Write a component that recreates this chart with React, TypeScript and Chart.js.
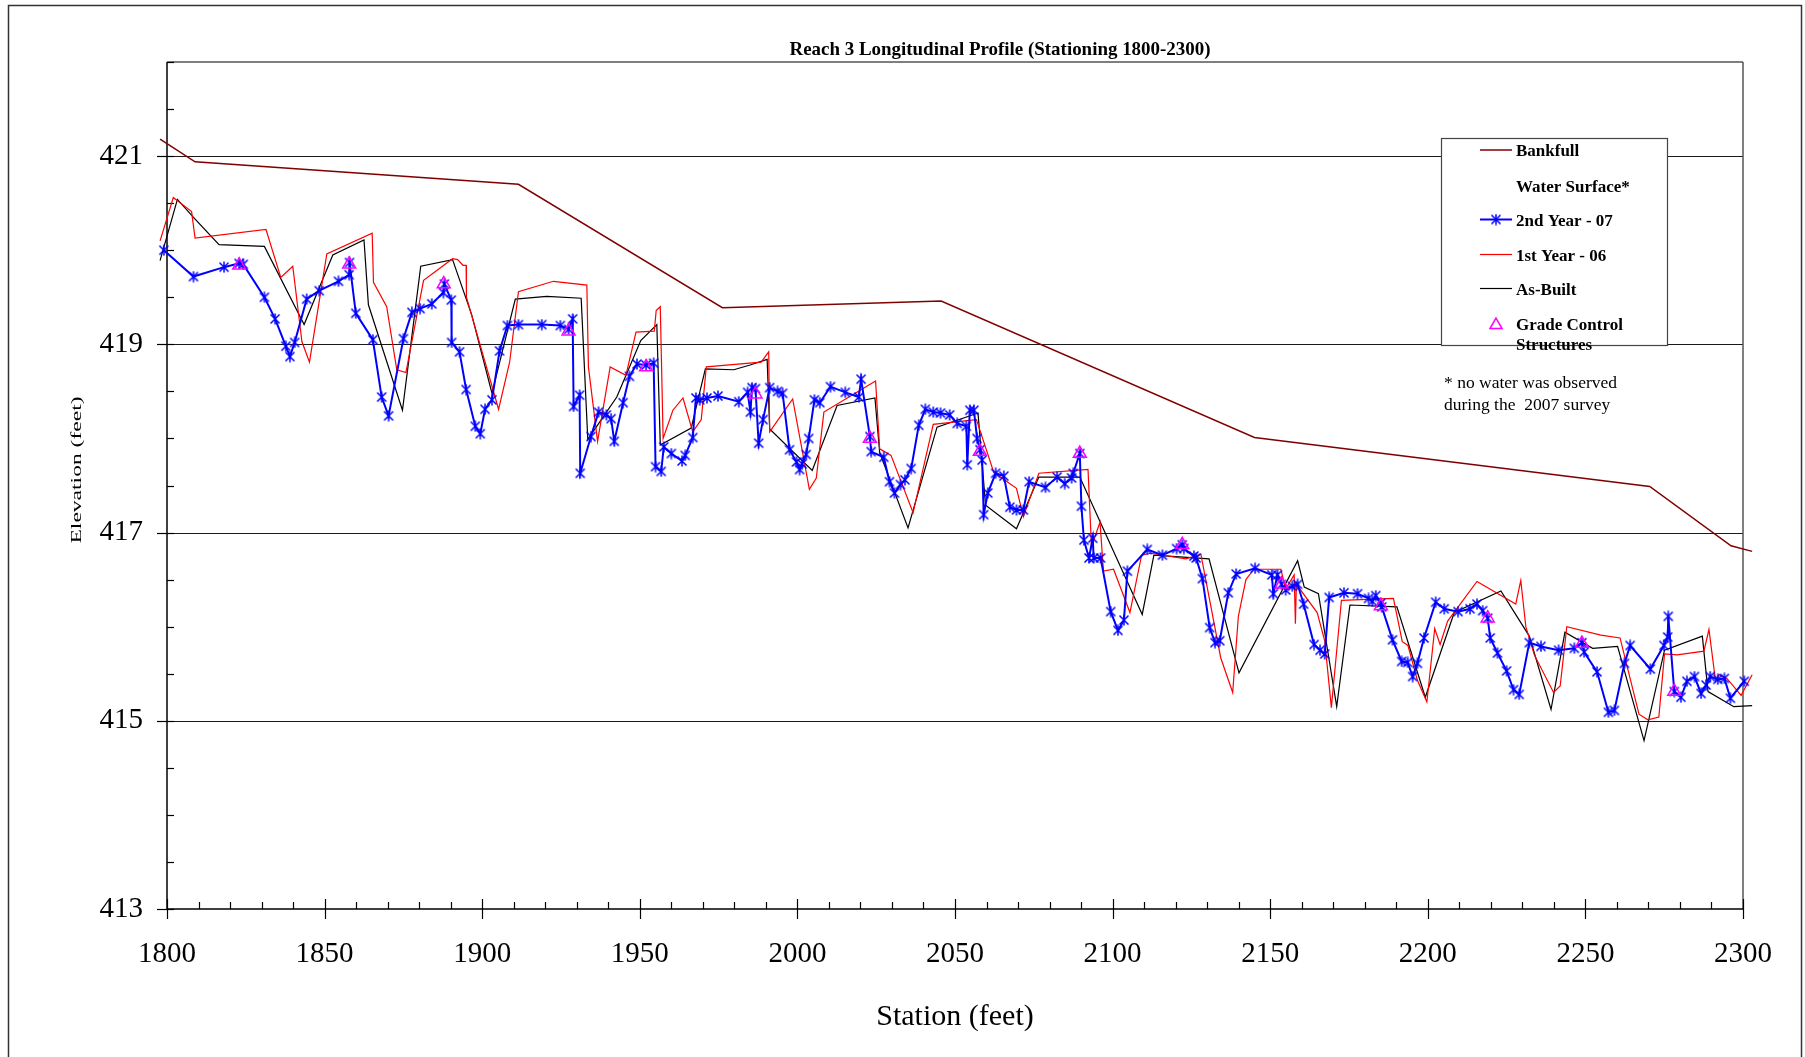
import React, { useEffect, useRef } from 'react';
import { Chart, registerables } from 'chart.js';

Chart.register(...registerables);

const FONT = '"Liberation Serif", "Times New Roman", Times, serif';

const TITLE = 'Reach 3 Longitudinal Profile (Stationing 1800-2300)';
const X_TITLE = 'Station (feet)';
const Y_TITLE = 'Elevation (feet)';
const NOTE_LINES = ['* no water was observed', 'during the  2007 survey'];

const X_MIN = 1800;
const X_MAX = 2300;
const X_MINOR_STEP = 10;
const X_TICK_LABELS = [1800, 1850, 1900, 1950, 2000, 2050, 2100, 2150, 2200, 2250, 2300];
const Y_MIN = 413;
const Y_MAX = 422;
const Y_MINOR_STEP = 0.5;
const Y_TICK_LABELS = [413, 415, 417, 419, 421];
const Y_GRID = [415, 417, 419, 421];

const LABEL_BANKFULL = 'Bankfull';
const LABEL_WATER = 'Water Surface*';
const LABEL_YEAR2 = '2nd Year - 07';
const LABEL_YEAR1 = '1st Year - 06';
const LABEL_ASBUILT = 'As-Built';
const LABEL_GRADE = 'Grade Control Structures';

// [station, elevation]
const BANKFULL: [number, number][] = [
  [1797.8, 421.18], [1808.9, 420.94], [1911.5, 420.70], [1976.2, 419.39], [2045.6, 419.46],
  [2145.0, 418.01], [2270.4, 417.49], [2296.2, 416.86], [2302.9, 416.80],
];

const WATER_SURFACE: [number, number][] = [];

const YEAR2_07: [number, number][] = [
  [1799.0, 420.0], [1808.4, 419.72], [1818.1, 419.82], [1822.9, 419.86], [1824.2, 419.85],
  [1830.9, 419.50], [1834.3, 419.27], [1837.7, 418.98], [1839.0, 418.87], [1840.5, 419.02],
  [1844.3, 419.48], [1848.3, 419.57], [1854.4, 419.67], [1857.8, 419.74], [1857.9, 419.87],
  [1859.9, 419.33], [1865.3, 419.05], [1868.1, 418.44], [1870.3, 418.24], [1875.0, 419.06],
  [1877.7, 419.34], [1880.3, 419.38], [1884.0, 419.43], [1887.7, 419.55], [1888.0, 419.64],
  [1890.2, 419.47], [1890.3, 419.02], [1892.8, 418.92], [1894.9, 418.52], [1897.8, 418.13],
  [1899.4, 418.05], [1900.9, 418.31], [1903.1, 418.41], [1905.5, 418.93], [1908.0, 419.20],
  [1911.5, 419.21], [1918.9, 419.21], [1924.8, 419.20], [1927.4, 419.16], [1928.7, 419.27],
  [1929.0, 418.34], [1930.9, 418.46], [1931.1, 417.63], [1934.5, 418.02], [1936.9, 418.28],
  [1939.4, 418.25], [1940.9, 418.21], [1941.9, 417.97], [1944.7, 418.38], [1946.7, 418.66],
  [1949.1, 418.79], [1952.0, 418.78], [1954.4, 418.80], [1955.0, 417.70], [1956.8, 417.65],
  [1957.6, 417.91], [1960.0, 417.84], [1963.4, 417.76], [1964.4, 417.82], [1966.8, 418.01],
  [1967.8, 418.43], [1969.0, 418.41], [1971.3, 418.43], [1974.8, 418.45], [1981.4, 418.39],
  [1984.2, 418.49], [1985.1, 418.28], [1985.6, 418.54], [1986.7, 418.53], [1987.7, 417.95],
  [1989.1, 418.20], [1991.2, 418.54], [1993.7, 418.50], [1995.3, 418.48], [1997.5, 417.88],
  [1999.7, 417.75], [2000.7, 417.67], [2001.5, 417.73], [2002.8, 417.83], [2003.6, 418.00],
  [2005.4, 418.41], [2007.1, 418.38], [2010.5, 418.55], [2015.2, 418.49], [2019.5, 418.44],
  [2020.2, 418.63], [2023.0, 418.02], [2023.4, 417.86], [2027.4, 417.80], [2029.2, 417.54],
  [2030.8, 417.42], [2032.7, 417.51], [2034.1, 417.56], [2036.1, 417.68], [2038.5, 418.14],
  [2040.6, 418.31], [2043.1, 418.28], [2045.4, 418.27], [2048.3, 418.25], [2050.7, 418.16],
  [2053.6, 418.13], [2053.9, 417.72], [2054.7, 418.30], [2056.0, 418.30], [2057.0, 418.00],
  [2057.9, 417.88], [2058.6, 417.77], [2059.1, 417.19], [2060.4, 417.42], [2062.9, 417.63],
  [2065.5, 417.60], [2067.4, 417.27], [2069.5, 417.24], [2071.7, 417.24], [2073.5, 417.54],
  [2078.7, 417.48], [2082.4, 417.59], [2084.8, 417.52], [2087.0, 417.58], [2087.5, 417.63],
  [2089.6, 417.84], [2090.1, 417.28], [2090.9, 416.92], [2092.5, 416.73], [2093.7, 416.94],
  [2094.0, 416.73], [2096.2, 416.73], [2099.4, 416.16], [2101.7, 415.96], [2103.6, 416.07],
  [2104.7, 416.59], [2111.0, 416.82], [2115.8, 416.76], [2120.3, 416.83], [2122.1, 416.87],
  [2122.6, 416.83], [2125.8, 416.75], [2126.5, 416.73], [2128.5, 416.51], [2130.8, 415.99],
  [2132.5, 415.83], [2134.0, 415.85], [2136.7, 416.36], [2139.2, 416.56], [2145.2, 416.62],
  [2150.5, 416.55], [2151.0, 416.35], [2152.3, 416.55], [2153.6, 416.45], [2154.9, 416.39],
  [2157.0, 416.43], [2158.7, 416.45], [2160.6, 416.24], [2163.9, 415.81], [2165.8, 415.75],
  [2167.3, 415.71], [2168.7, 416.31], [2173.4, 416.36], [2177.7, 416.35], [2181.2, 416.30],
  [2182.4, 416.27], [2183.5, 416.33], [2185.1, 416.25], [2185.4, 416.21], [2188.8, 415.86],
  [2191.7, 415.63], [2193.6, 415.62], [2195.2, 415.47], [2196.7, 415.61], [2198.8, 415.88],
  [2202.5, 416.26], [2205.2, 416.19], [2209.6, 416.16], [2213.4, 416.19], [2215.6, 416.24],
  [2217.4, 416.17], [2219.0, 416.09], [2219.8, 415.88], [2222.1, 415.72], [2225.0, 415.53],
  [2227.2, 415.33], [2229.0, 415.28], [2232.2, 415.83], [2235.9, 415.79], [2241.5, 415.75],
  [2246.5, 415.77], [2248.9, 415.83], [2249.6, 415.73], [2253.7, 415.52], [2257.3, 415.09],
  [2259.2, 415.11], [2262.4, 415.61], [2264.2, 415.80], [2270.6, 415.55], [2274.9, 415.80],
  [2276.1, 415.89], [2276.3, 416.11], [2278.2, 415.31], [2280.3, 415.25], [2282.2, 415.42],
  [2284.6, 415.47], [2286.7, 415.29], [2288.3, 415.38], [2289.6, 415.47], [2292.0, 415.44],
  [2294.1, 415.45], [2296.0, 415.24], [2300.4, 415.42], [2302.9, 415.49],
];

const YEAR1_06: [number, number][] = [
  [1797.8, 420.10], [1802.0, 420.56], [1807.8, 420.41], [1808.9, 420.13], [1831.4, 420.22],
  [1836.1, 419.71], [1839.9, 419.83], [1842.8, 419.03], [1845.2, 418.81], [1850.7, 419.96],
  [1865.1, 420.18], [1865.5, 419.66], [1869.7, 419.40], [1872.9, 418.73], [1875.8, 418.70],
  [1881.4, 419.68], [1890.6, 419.91], [1892.2, 419.90], [1893.9, 419.84], [1894.9, 419.84],
  [1895.0, 419.50], [1905.2, 418.31], [1908.7, 418.81], [1911.5, 419.56], [1922.6, 419.67],
  [1933.2, 419.63], [1933.7, 418.76], [1936.6, 417.97], [1940.6, 418.76], [1945.6, 418.67],
  [1948.8, 419.13], [1954.6, 419.14], [1955.2, 419.36], [1956.5, 419.40], [1957.4, 418.00],
  [1960.5, 418.30], [1963.7, 418.43], [1966.8, 418.07], [1969.5, 418.20], [1971.1, 418.76],
  [1988.5, 418.81], [1990.9, 418.92], [1991.2, 418.07], [1998.5, 418.42], [2003.8, 417.46],
  [2006.0, 417.58], [2008.4, 418.28], [2024.8, 418.61], [2026.1, 417.89], [2029.7, 417.82],
  [2036.7, 417.21], [2043.1, 418.15], [2056.8, 418.20], [2062.3, 417.64], [2069.5, 417.47],
  [2071.7, 417.17], [2076.6, 417.63], [2092.2, 417.67], [2093.3, 416.85], [2096.0, 417.11],
  [2097.1, 416.59], [2100.3, 416.61], [2105.5, 416.15], [2109.2, 416.76], [2112.1, 416.78],
  [2123.2, 416.72], [2128.0, 416.77], [2134.3, 415.67], [2138.1, 415.30], [2139.9, 416.11],
  [2142.3, 416.50], [2144.8, 416.61], [2153.4, 416.61], [2154.9, 416.40], [2157.6, 416.55],
  [2158.0, 416.03], [2158.3, 416.45], [2164.9, 416.15], [2167.3, 415.85], [2169.4, 415.14],
  [2172.6, 416.28], [2189.1, 416.30], [2191.9, 415.84], [2193.7, 415.80], [2196.7, 415.43],
  [2199.7, 415.20], [2202.2, 415.98], [2203.9, 415.81], [2206.3, 416.06], [2215.6, 416.48],
  [2227.9, 416.24], [2229.5, 416.49], [2231.1, 416.00], [2233.8, 415.70], [2239.9, 415.30],
  [2242.0, 415.37], [2244.1, 416.00], [2254.9, 415.91], [2261.0, 415.88], [2267.0, 415.07],
  [2269.8, 415.01], [2273.3, 415.04], [2275.1, 415.71], [2279.1, 415.70], [2287.6, 415.74],
  [2289.2, 415.97], [2291.3, 415.42], [2292.4, 415.49], [2294.9, 415.45], [2299.4, 415.27],
  [2302.9, 415.49],
];

const AS_BUILT: [number, number][] = [
  [1797.8, 419.89], [1803.3, 420.54], [1808.4, 420.35], [1816.5, 420.06], [1830.9, 420.04],
  [1843.5, 419.21], [1852.6, 419.95], [1862.5, 420.11], [1863.9, 419.42], [1874.7, 418.30],
  [1880.5, 419.83], [1890.6, 419.90], [1896.7, 419.31], [1903.1, 418.48], [1910.5, 419.48],
  [1920.5, 419.51], [1931.4, 419.49], [1933.5, 417.99], [1942.7, 418.44], [1950.3, 419.04],
  [1955.4, 419.21], [1956.5, 417.93], [1966.3, 418.11], [1970.8, 418.74], [1979.8, 418.73],
  [1985.0, 418.78], [1990.4, 418.84], [1991.2, 418.10], [2004.7, 417.66], [2012.6, 418.35],
  [2024.6, 418.43], [2026.1, 417.85], [2035.1, 417.05], [2044.3, 418.12], [2057.3, 418.27],
  [2059.7, 417.29], [2069.5, 417.04], [2076.6, 417.59], [2089.6, 417.59], [2109.4, 416.13],
  [2113.1, 416.76], [2130.6, 416.72], [2140.1, 415.51], [2158.7, 416.70], [2160.8, 416.42],
  [2165.3, 416.35], [2171.1, 415.15], [2175.3, 416.23], [2190.2, 416.21], [2199.2, 415.25],
  [2208.4, 416.15], [2223.2, 416.38], [2232.2, 415.90], [2239.1, 415.12], [2243.5, 415.94],
  [2252.3, 415.77], [2260.2, 415.79], [2268.6, 414.79], [2275.1, 415.75], [2287.1, 415.90],
  [2288.9, 415.31], [2297.1, 415.15], [2302.9, 415.16],
];

const GRADE_CONTROL: [number, number][] = [
  [1822.9, 419.84], [1857.8, 419.85], [1887.8, 419.64], [1927.4, 419.14], [1952.0, 418.76],
  [1986.7, 418.47], [2023.0, 418.00], [2057.9, 417.86], [2089.6, 417.84], [2122.1, 416.87],
  [2153.6, 416.45], [2185.1, 416.22], [2219.0, 416.09], [2248.9, 415.82], [2278.2, 415.31],
];

const COLOR_BANKFULL = '#800000';
const COLOR_YEAR2 = '#0000FF';
const COLOR_YEAR1 = '#FF0000';
const COLOR_ASBUILT = '#000000';
const COLOR_GRADE = '#FF00FF';

const toXY = (arr: [number, number][]) => arr.map(([x, y]) => ({ x, y }));

function makeStar(color: string): HTMLCanvasElement {
  const c = document.createElement('canvas');
  c.width = 12;
  c.height = 12;
  const g = c.getContext('2d')!;
  g.strokeStyle = color;
  g.lineWidth = 1.5;
  g.beginPath();
  g.moveTo(6, 0.5);
  g.lineTo(6, 11.5);
  g.moveTo(1.5, 1.5);
  g.lineTo(10.5, 10.5);
  g.moveTo(10.5, 1.5);
  g.lineTo(1.5, 10.5);
  g.stroke();
  return c;
}

function line(ctx: CanvasRenderingContext2D, x1: number, y1: number, x2: number, y2: number) {
  ctx.beginPath();
  ctx.moveTo(x1, y1);
  ctx.lineTo(x2, y2);
  ctx.stroke();
}

function triangle(ctx: CanvasRenderingContext2D, x: number, y: number, r: number) {
  ctx.beginPath();
  for (let k = 0; k < 3; k++) {
    const a = (k * 2 * Math.PI) / 3;
    const px = x + Math.sin(a) * r;
    const py = y - Math.cos(a) * r;
    if (k === 0) ctx.moveTo(px, py);
    else ctx.lineTo(px, py);
  }
  ctx.closePath();
  ctx.stroke();
}

const decorPlugin = {
  id: 'profileDecor',
  beforeDraw(chart: any) {
    const ctx: CanvasRenderingContext2D = chart.ctx;
    ctx.save();
    ctx.fillStyle = '#ffffff';
    ctx.fillRect(0, 0, chart.width, chart.height);
    ctx.strokeStyle = '#333';
    ctx.lineWidth = 1.5;
    ctx.strokeRect(8.5, 5.5, 1793, 1200);
    ctx.restore();
  },
  beforeDatasetsDraw(chart: any) {
    const ctx: CanvasRenderingContext2D = chart.ctx;
    const a = chart.chartArea;
    const xs = chart.scales.x;
    const ys = chart.scales.y;
    ctx.save();
    // gridlines
    ctx.strokeStyle = '#1a1a1a';
    ctx.lineWidth = 1;
    for (const v of Y_GRID) {
      const py = Math.round(ys.getPixelForValue(v)) + 0.5;
      line(ctx, a.left, py, a.right, py);
    }
    // frame top/right
    ctx.strokeStyle = '#555';
    ctx.lineWidth = 1.5;
    line(ctx, a.left, a.top, a.right, a.top);
    line(ctx, a.right, a.top, a.right, a.bottom);
    // axes
    ctx.strokeStyle = '#000';
    ctx.lineWidth = 1.5;
    line(ctx, a.left, a.top, a.left, a.bottom);
    line(ctx, a.left, a.bottom, a.right, a.bottom);
    // y ticks
    ctx.lineWidth = 1.2;
    for (let v = Y_MIN; v <= Y_MAX + 1e-9; v += Y_MINOR_STEP) {
      const py = Math.round(ys.getPixelForValue(v)) + 0.5;
      const major = Y_TICK_LABELS.some((t) => Math.abs(t - v) < 1e-6);
      line(ctx, major ? a.left - 10 : a.left, py, a.left + 7, py);
    }
    // x ticks
    for (let v = X_MIN; v <= X_MAX + 1e-9; v += X_MINOR_STEP) {
      const px = Math.round(xs.getPixelForValue(v)) + 0.5;
      const major = X_TICK_LABELS.some((t) => Math.abs(t - v) < 1e-6);
      line(ctx, px, major ? a.bottom - 10 : a.bottom - 7, px, major ? a.bottom + 10 : a.bottom);
    }
    ctx.restore();
  },
  afterDraw(chart: any) {
    const ctx: CanvasRenderingContext2D = chart.ctx;
    const a = chart.chartArea;
    ctx.save();
    ctx.fillStyle = '#000';
    ctx.textAlign = 'center';
    ctx.textBaseline = 'alphabetic';

    // title (fit to measured width)
    ctx.font = `bold 20px ${FONT}`;
    const tw = ctx.measureText(TITLE).width;
    const tSize = (20 * 421) / tw;
    ctx.font = `bold ${tSize.toFixed(2)}px ${FONT}`;
    ctx.fillText(TITLE, 1000, 55);

    // x title
    ctx.font = `30px ${FONT}`;
    ctx.fillText(X_TITLE, (a.left + a.right) / 2, 1025);

    // y title (rotated, stretched along its length)
    ctx.save();
    ctx.translate(80.5, 470);
    ctx.rotate(-Math.PI / 2);
    ctx.font = `14px ${FONT}`;
    const yw = ctx.measureText(Y_TITLE).width;
    ctx.scale(147 / yw, 1);
    ctx.textAlign = 'center';
    ctx.fillText(Y_TITLE, 0, 0);
    ctx.restore();

    // legend
    const bx = 1441, by = 138, bw = 226, bh = 207;
    ctx.fillStyle = '#fff';
    ctx.fillRect(bx, by, bw, bh);
    ctx.strokeStyle = '#444';
    ctx.lineWidth = 1.2;
    ctx.strokeRect(bx + 0.5, by + 0.5, bw, bh);
    const rowY = [150, 186, 219.5, 254.5, 288.5, 324];
    ctx.font = `bold 17px ${FONT}`;
    ctx.textAlign = 'left';
    chart.data.datasets.forEach((ds: any, i: number) => {
      const cy = rowY[i];
      const sx1 = 1480, sx2 = 1512, mx = 1496;
      if (ds.showLine && ds.borderWidth > 0 && ds.data.length) {
        ctx.strokeStyle = ds.borderColor;
        ctx.lineWidth = ds.borderWidth;
        line(ctx, sx1, cy, sx2, cy);
      }
      if (ds.legendMarker === 'star') {
        ctx.drawImage(ds.pointStyle, mx - 6, cy - 6);
      } else if (ds.legendMarker === 'triangle') {
        ctx.strokeStyle = ds.pointBorderColor;
        ctx.lineWidth = ds.pointBorderWidth;
        triangle(ctx, mx, cy + 1, 7);
      }
      ctx.fillStyle = '#000';
      // simple word wrap
      const words = String(ds.label).split(' ');
      const lines: string[] = [];
      let cur = '';
      for (const w of words) {
        const test = cur ? cur + ' ' + w : w;
        if (ctx.measureText(test).width > 148 && cur) {
          lines.push(cur);
          cur = w;
        } else cur = test;
      }
      if (cur) lines.push(cur);
      lines.forEach((ln, k) => ctx.fillText(ln, 1516, cy + 6 + k * 20));
    });

    // note
    ctx.font = `17.5px ${FONT}`;
    ctx.fillStyle = '#000';
    ctx.fillText(NOTE_LINES[0], 1444, 388);
    ctx.fillText(NOTE_LINES[1], 1444, 410);
    ctx.restore();
  },
};

export default function App() {
  const ref = useRef<HTMLCanvasElement | null>(null);

  useEffect(() => {
    if (!ref.current) return;
    const star = makeStar(COLOR_YEAR2);
    const chart = new Chart(ref.current, {
      type: 'scatter',
      data: {
        datasets: [
          {
            label: LABEL_BANKFULL, data: toXY(BANKFULL), showLine: true,
            borderColor: COLOR_BANKFULL, borderWidth: 1.5, pointRadius: 0, order: 5, clip: false,
          } as any,
          {
            label: LABEL_WATER, data: toXY(WATER_SURFACE), showLine: true,
            borderColor: 'rgba(0,0,0,0)', borderWidth: 0, pointRadius: 0, order: 6, clip: false,
          } as any,
          {
            label: LABEL_YEAR2, data: toXY(YEAR2_07), showLine: true,
            borderColor: COLOR_YEAR2, borderWidth: 2, pointStyle: star, pointRadius: 6,
            pointBorderColor: COLOR_YEAR2, order: 2, clip: false, legendMarker: 'star',
          } as any,
          {
            label: LABEL_YEAR1, data: toXY(YEAR1_06), showLine: true,
            borderColor: COLOR_YEAR1, borderWidth: 1.2, pointRadius: 0, order: 3, clip: false,
          } as any,
          {
            label: LABEL_ASBUILT, data: toXY(AS_BUILT), showLine: true,
            borderColor: COLOR_ASBUILT, borderWidth: 1.2, pointRadius: 0, order: 4, clip: false,
          } as any,
          {
            label: LABEL_GRADE, data: toXY(GRADE_CONTROL), showLine: false,
            pointStyle: 'triangle', pointRadius: 7.5, pointBorderColor: COLOR_GRADE,
            pointBackgroundColor: 'rgba(0,0,0,0)', pointBorderWidth: 1.5, order: 1, clip: false,
            legendMarker: 'triangle',
          } as any,
        ],
      },
      options: {
        animation: false,
        responsive: false,
        devicePixelRatio: 1,
        events: [],
        layout: { padding: { left: 0, top: 62, right: 62, bottom: 0 } },
        plugins: { legend: { display: false }, title: { display: false }, tooltip: { enabled: false } },
        scales: {
          x: {
            type: 'linear', position: 'bottom', min: X_MIN, max: X_MAX,
            afterFit: (s: any) => { s.height = 148; },
            afterBuildTicks: (s: any) => { s.ticks = X_TICK_LABELS.map((v) => ({ value: v })); },
            ticks: {
              autoSkip: false, maxRotation: 0, padding: 28, color: '#000',
              font: { family: FONT, size: 29 }, callback: (v: any) => String(v),
            },
            grid: { display: false, drawTicks: false },
            border: { display: false },
          },
          y: {
            type: 'linear', min: Y_MIN, max: Y_MAX,
            afterFit: (s: any) => { s.width = 167; },
            afterBuildTicks: (s: any) => { s.ticks = Y_TICK_LABELS.map((v) => ({ value: v })); },
            ticks: {
              autoSkip: false, padding: 24, color: '#000',
              font: { family: FONT, size: 29 }, callback: (v: any) => String(v),
            },
            grid: { display: false, drawTicks: false },
            border: { display: false },
          },
        },
      } as any,
      plugins: [decorPlugin],
    });
    return () => chart.destroy();
  }, []);

  return (
    <div style={{ position: 'absolute', left: 0, top: 0, width: 1805, height: 1057 }}>
      <canvas ref={ref} width={1805} height={1057} style={{ display: 'block' }} />
    </div>
  );
}
